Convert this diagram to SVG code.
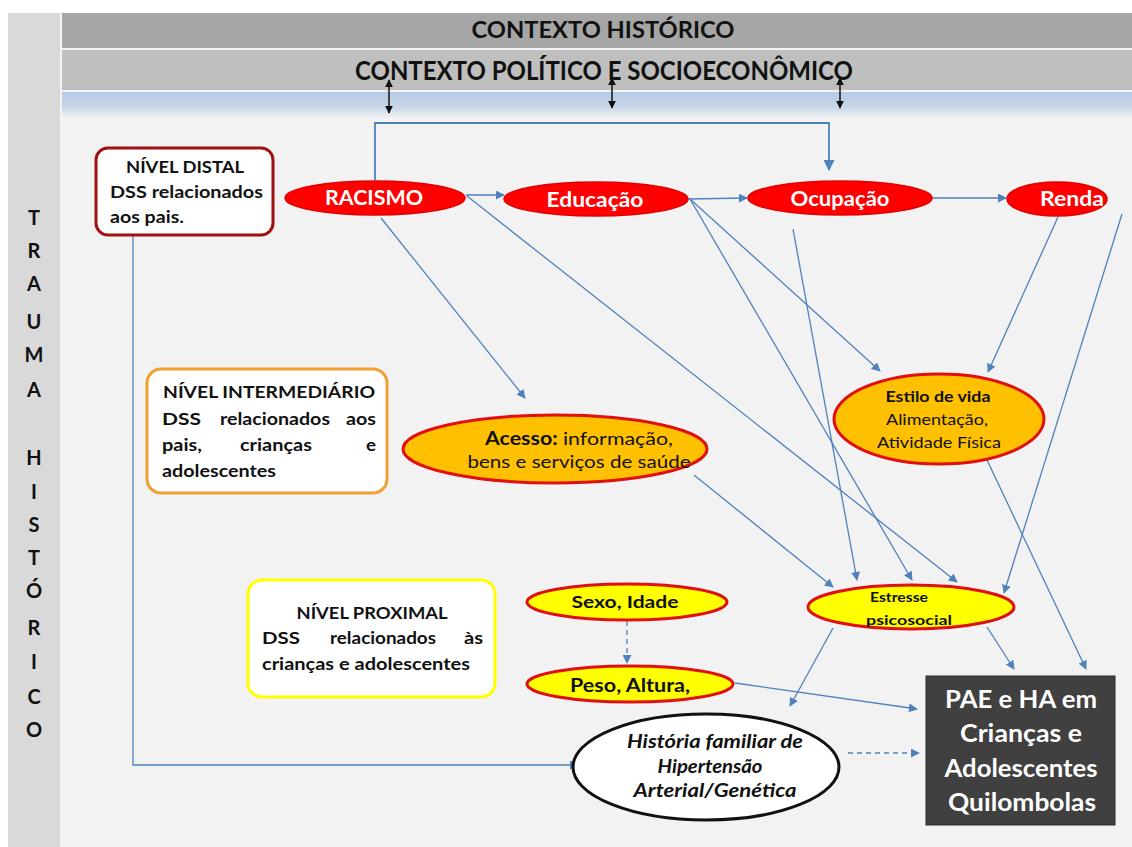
<svg xmlns="http://www.w3.org/2000/svg" width="1132" height="847" viewBox="0 0 1132 847">
<defs>
<linearGradient id="blueband" x1="0" y1="0" x2="0" y2="1">
<stop offset="0" stop-color="#b4c9e3"/>
<stop offset="0.6" stop-color="#c9d8ea"/>
<stop offset="1" stop-color="#f2f2f2"/>
</linearGradient>
<marker id="ab" viewBox="0 0 10 10" refX="9" refY="5" markerWidth="9" markerHeight="9" markerUnits="userSpaceOnUse" orient="auto">
<path d="M0,0 L10,5 L0,10 Z" fill="#4f81bd"/>
</marker>
<marker id="abig" viewBox="0 0 10 10" refX="9" refY="5" markerWidth="11" markerHeight="11" markerUnits="userSpaceOnUse" orient="auto">
<path d="M0,0 L10,5 L0,10 Z" fill="#4f81bd"/>
</marker>
<marker id="ak" viewBox="0 0 10 10" refX="9" refY="5" markerWidth="8" markerHeight="8" markerUnits="userSpaceOnUse" orient="auto-start-reverse">
<path d="M0,0 L10,5 L0,10 Z" fill="#111"/>
</marker>
</defs>
<style>
.t{font-family:Lato,"Open Sans","Liberation Sans",sans-serif;font-weight:bold;fill:#111}
.r{font-weight:normal}
.w{fill:#fff}
.c{stroke:#4f81bd;stroke-width:1.3;fill:none;marker-end:url(#ab)}
.d{stroke-dasharray:5,4}
.red{fill:#ff0000;stroke:#e00000;stroke-width:1.5}
.org{fill:#ffc000;stroke:#e01010;stroke-width:3}
.yel{fill:#ffff00;stroke:#e01010;stroke-width:3}
.letter{font-family:Lato,"Open Sans","Liberation Sans",sans-serif;font-weight:bold;font-size:20px;fill:#111;text-anchor:middle}
</style>
<rect x="0" y="0" width="1132" height="847" fill="#ffffff"/>
<rect x="8" y="13" width="52" height="834" fill="#d9d9d9"/>
<rect x="60" y="13" width="1072" height="834" fill="#f2f2f2"/>
<g id="contexto-historico">
<rect x="62" y="13" width="1070" height="35" fill="#a6a6a6"/>
<text class="t" x="603" y="38" font-size="22" text-anchor="middle" textLength="263" lengthAdjust="spacingAndGlyphs">CONTEXTO HISTÓRICO</text>
</g>
<g id="contexto-politico">
<rect x="62" y="50" width="1070" height="40" fill="#bfbfbf"/>
<text class="t" x="604" y="80" font-size="26" text-anchor="middle" textLength="498" lengthAdjust="spacingAndGlyphs">CONTEXTO POLÍTICO E SOCIOECONÔMICO</text>
</g>
<g id="faixa-azul">
<rect x="62" y="92" width="1070" height="26" fill="url(#blueband)"/>
</g>
<g id="trauma-historico">
<text class="letter" x="34" y="225">T</text>
<text class="letter" x="34" y="258">R</text>
<text class="letter" x="34" y="291">A</text>
<text class="letter" x="34" y="329">U</text>
<text class="letter" x="34" y="362">M</text>
<text class="letter" x="34" y="397">A</text>
<text class="letter" x="34" y="465">H</text>
<text class="letter" x="34" y="499">I</text>
<text class="letter" x="34" y="532">S</text>
<text class="letter" x="34" y="565">T</text>
<text class="letter" x="34" y="598">Ó</text>
<text class="letter" x="34" y="635">R</text>
<text class="letter" x="34" y="669">I</text>
<text class="letter" x="34" y="704">C</text>
<text class="letter" x="34" y="737">O</text>
</g>
<g id="connectors">
<line x1="389" y1="80" x2="389" y2="113" stroke="#111" stroke-width="1.5" marker-start="url(#ak)" marker-end="url(#ak)"/>
<line x1="612" y1="78" x2="612" y2="108" stroke="#111" stroke-width="1.5" marker-start="url(#ak)" marker-end="url(#ak)"/>
<line x1="840" y1="78" x2="840" y2="108" stroke="#111" stroke-width="1.5" marker-start="url(#ak)" marker-end="url(#ak)"/>
<path class="c" d="M375,180 L375,123 L829,123 L829,170" style="stroke-width:1.8;marker-end:url(#abig)"/>
<line class="c" x1="466" y1="195" x2="504" y2="195"/>
<line class="c" x1="688" y1="199" x2="747" y2="198"/>
<line class="c" x1="932" y1="198" x2="1006" y2="198"/>
<line class="c" x1="381" y1="218" x2="525" y2="398"/>
<line class="c" x1="467" y1="196" x2="957" y2="582"/>
<line class="c" x1="690" y1="199" x2="880" y2="371"/>
<line class="c" x1="690" y1="199" x2="912" y2="580"/>
<line class="c" x1="793" y1="229" x2="857" y2="580"/>
<line class="c" x1="1058" y1="217" x2="988" y2="372"/>
<line class="c" x1="1122" y1="214" x2="1004" y2="593"/>
<line class="c" x1="694" y1="475" x2="833" y2="587"/>
<line class="c" x1="987" y1="460" x2="1086" y2="669"/>
<line class="c" x1="987" y1="627" x2="1014" y2="669"/>
<line class="c" x1="833" y1="628" x2="790" y2="706"/>
<line class="c" x1="735" y1="683" x2="917" y2="709"/>
<line class="c d" x1="848" y1="753" x2="919" y2="753"/>
<line class="c d" x1="627" y1="621" x2="627" y2="663"/>
<path class="c" d="M133,235 L133,765 L578,765"/>
</g>
<g id="nivel-distal">
<rect x="96" y="148" width="177" height="87" rx="12" fill="#ffffff" stroke="#a01010" stroke-width="3"/>
<text class="t" x="185" y="173" font-size="17" text-anchor="middle" textLength="118" lengthAdjust="spacingAndGlyphs">NÍVEL DISTAL</text>
<text class="t" x="110" y="198" font-size="17" textLength="153" lengthAdjust="spacingAndGlyphs">DSS relacionados</text>
<text class="t" x="110" y="223" font-size="17" textLength="74" lengthAdjust="spacingAndGlyphs">aos pais.</text>
</g>
<g id="racismo">
<ellipse class="red" cx="375" cy="198" rx="90" ry="17"/>
<text class="t w" x="374" y="205" font-size="20" text-anchor="middle" textLength="98" lengthAdjust="spacingAndGlyphs">RACISMO</text>
</g>
<g id="educacao">
<ellipse class="red" cx="596" cy="199" rx="92" ry="17"/>
<text class="t w" x="595" y="207" font-size="20" text-anchor="middle" textLength="97" lengthAdjust="spacingAndGlyphs">Educação</text>
</g>
<g id="ocupacao">
<ellipse class="red" cx="840" cy="198" rx="92" ry="17"/>
<text class="t w" x="840" y="206" font-size="20" text-anchor="middle" textLength="99" lengthAdjust="spacingAndGlyphs">Ocupação</text>
</g>
<g id="renda">
<ellipse class="red" cx="1057" cy="199" rx="50" ry="17"/>
<text class="t w" x="1072" y="206" font-size="20" text-anchor="middle" textLength="64" lengthAdjust="spacingAndGlyphs">Renda</text>
</g>
<g id="nivel-intermediario">
<rect x="147" y="369" width="240" height="124" rx="14" fill="#ffffff" stroke="#f0a030" stroke-width="3"/>
<text class="t" x="269" y="398" font-size="17" text-anchor="middle" textLength="212" lengthAdjust="spacingAndGlyphs">NÍVEL INTERMEDIÁRIO</text>
<text class="t" x="162" y="425" font-size="17" textLength="39" lengthAdjust="spacingAndGlyphs">DSS</text>
<text class="t" x="220" y="425" font-size="17" textLength="110" lengthAdjust="spacingAndGlyphs">relacionados</text>
<text class="t" x="346" y="425" font-size="17" textLength="30" lengthAdjust="spacingAndGlyphs">aos</text>
<text class="t" x="162" y="451" font-size="17" textLength="40" lengthAdjust="spacingAndGlyphs">pais,</text>
<text class="t" x="240" y="451" font-size="17" textLength="72" lengthAdjust="spacingAndGlyphs">crianças</text>
<text class="t" x="366" y="451" font-size="17" textLength="10" lengthAdjust="spacingAndGlyphs">e</text>
<text class="t" x="162" y="477" font-size="17" textLength="114" lengthAdjust="spacingAndGlyphs">adolescentes</text>
</g>
<g id="acesso">
<ellipse class="org" cx="555" cy="449" rx="152" ry="34"/>
<text class="t" x="579" y="445" font-size="18" text-anchor="middle" textLength="188" lengthAdjust="spacingAndGlyphs">Acesso: <tspan class="r">informação,</tspan></text>
<text class="t r" x="579" y="468" font-size="18" text-anchor="middle" textLength="223" lengthAdjust="spacingAndGlyphs">bens e serviços de saúde</text>
</g>
<g id="estilo-de-vida">
<ellipse class="org" cx="939" cy="419" rx="105" ry="45"/>
<text class="t" x="938" y="402" font-size="16" text-anchor="middle" textLength="105" lengthAdjust="spacingAndGlyphs">Estilo de vida</text>
<text class="t r" x="937" y="425" font-size="16" text-anchor="middle" textLength="102" lengthAdjust="spacingAndGlyphs">Alimentação,</text>
<text class="t r" x="939" y="448" font-size="16" text-anchor="middle" textLength="124" lengthAdjust="spacingAndGlyphs">Atividade Física</text>
</g>
<g id="nivel-proximal">
<rect x="248" y="580" width="247" height="117" rx="14" fill="#ffffff" stroke="#ffff00" stroke-width="3"/>
<text class="t" x="372" y="619" font-size="17" text-anchor="middle" textLength="151" lengthAdjust="spacingAndGlyphs">NÍVEL PROXIMAL</text>
<text class="t" x="262" y="644" font-size="17" textLength="38" lengthAdjust="spacingAndGlyphs">DSS</text>
<text class="t" x="330" y="644" font-size="17" textLength="106" lengthAdjust="spacingAndGlyphs">relacionados</text>
<text class="t" x="464" y="644" font-size="17" textLength="19" lengthAdjust="spacingAndGlyphs">às</text>
<text class="t" x="262" y="670" font-size="17" textLength="208" lengthAdjust="spacingAndGlyphs">crianças e adolescentes</text>
</g>
<g id="sexo-idade">
<ellipse class="yel" cx="627" cy="602" rx="100" ry="18"/>
<text class="t" x="625" y="608" font-size="17" text-anchor="middle" textLength="107" lengthAdjust="spacingAndGlyphs">Sexo, Idade</text>
</g>
<g id="peso-altura">
<ellipse class="yel" cx="630" cy="684" rx="103" ry="18"/>
<text class="t" x="630" y="692" font-size="18" text-anchor="middle" textLength="120" lengthAdjust="spacingAndGlyphs">Peso, Altura,</text>
</g>
<g id="estresse">
<ellipse class="yel" cx="911" cy="607" rx="103" ry="22"/>
<text class="t" x="899" y="602" font-size="14" text-anchor="middle" textLength="58" lengthAdjust="spacingAndGlyphs">Estresse</text>
<text class="t" x="909" y="625" font-size="14" text-anchor="middle" textLength="86" lengthAdjust="spacingAndGlyphs">psicosocial</text>
</g>
<g id="historia-familiar">
<ellipse cx="706" cy="767" rx="133" ry="53" fill="#ffffff" stroke="#111" stroke-width="3"/>
<text class="t" x="715" y="748" font-size="18" font-style="italic" text-anchor="middle" textLength="176" lengthAdjust="spacingAndGlyphs">História familiar de</text>
<text class="t" x="710" y="773" font-size="18" font-style="italic" text-anchor="middle" textLength="105" lengthAdjust="spacingAndGlyphs">Hipertensão</text>
<text class="t" x="715" y="797" font-size="18" font-style="italic" text-anchor="middle" textLength="163" lengthAdjust="spacingAndGlyphs">Arterial/Genética</text>
</g>
<g id="pae-ha">
<rect x="926" y="676" width="189" height="149" fill="#404040" stroke="#2a2a2a" stroke-width="1"/>
<text class="t w" x="1021" y="708" font-size="24" text-anchor="middle" textLength="152" lengthAdjust="spacingAndGlyphs">PAE e HA em</text>
<text class="t w" x="1021" y="742" font-size="24" text-anchor="middle" textLength="122" lengthAdjust="spacingAndGlyphs">Crianças e</text>
<text class="t w" x="1021" y="777" font-size="24" text-anchor="middle" textLength="153" lengthAdjust="spacingAndGlyphs">Adolescentes</text>
<text class="t w" x="1022" y="811" font-size="24" text-anchor="middle" textLength="148" lengthAdjust="spacingAndGlyphs">Quilombolas</text>
</g>
</svg>
